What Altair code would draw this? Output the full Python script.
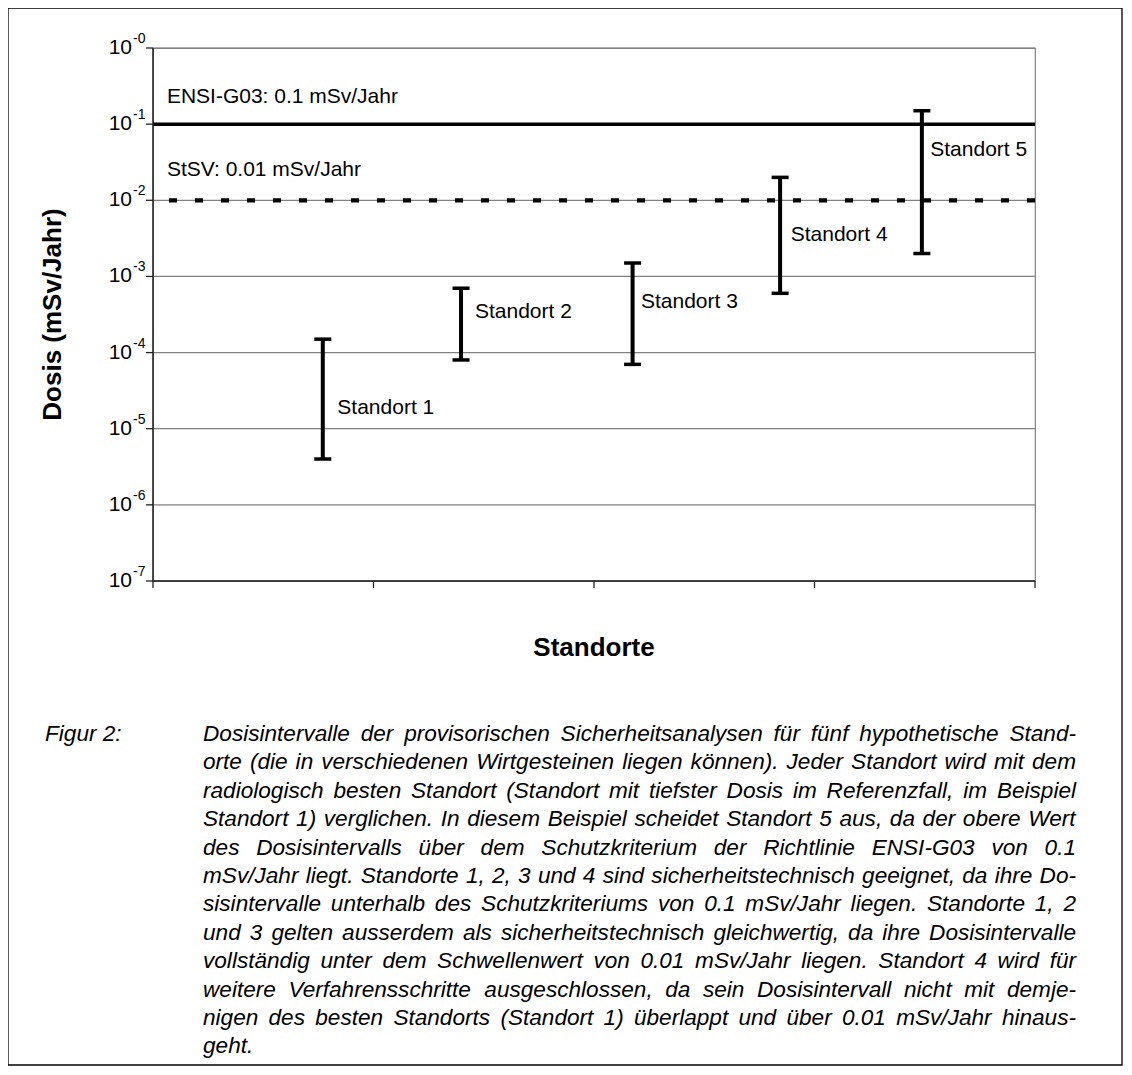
import altair as alt
import pandas as pd

# ---------------- data ----------------
sites = ["Standort 1", "Standort 2", "Standort 3", "Standort 4", "Standort 5"]
site_x = [0.770, 1.397, 2.175, 2.844, 3.487]
dose_low = [4.0e-6, 8.0e-5, 7.0e-5, 6.0e-4, 2.0e-3]
dose_high = [1.5e-4, 7.0e-4, 1.5e-3, 2.0e-2, 1.5e-1]
label_x = [0.836, 1.460, 2.213, 2.892, 3.525]
label_y = [1.87e-5, 3.4e-4, 4.6e-4, 3.5e-3, 4.6e-2]

limit_values = [0.1, 0.01]
limit_labels = ["ENSI-G03: 0.1 mSv/Jahr", "StSV: 0.01 mSv/Jahr"]
limit_label_y = [0.227, 0.025]
limit_label_x = [0.063, 0.063]

decades = [1, 1e-1, 1e-2, 1e-3, 1e-4, 1e-5, 1e-6, 1e-7]
exponents = ["-0", "-1", "-2", "-3", "-4", "-5", "-6", "-7"]
x_ticks = [0, 1, 2, 3, 4]

y_title = "Dosis (mSv/Jahr)"
x_title = "Standorte"
caption_label = "Figur 2:"
caption_lines = [
    "Dosisintervalle der provisorischen Sicherheitsanalysen für fünf hypothetische Stand-",
    "orte (die in verschiedenen Wirtgesteinen liegen können). Jeder Standort wird mit dem",
    "radiologisch besten Standort (Standort mit tiefster Dosis im Referenzfall, im Beispiel",
    "Standort 1) verglichen. In diesem Beispiel scheidet Standort 5 aus, da der obere Wert",
    "des Dosisintervalls über dem Schutzkriterium der Richtlinie ENSI-G03 von 0.1",
    "mSv/Jahr liegt. Standorte 1, 2, 3 und 4 sind sicherheitstechnisch geeignet, da ihre Do-",
    "sisintervalle unterhalb des Schutzkriteriums von 0.1 mSv/Jahr liegen. Standorte 1, 2",
    "und 3 gelten ausserdem als sicherheitstechnisch gleichwertig, da ihre Dosisintervalle",
    "vollständig unter dem Schwellenwert von 0.01 mSv/Jahr liegen. Standort 4 wird für",
    "weitere Verfahrensschritte ausgeschlossen, da sein Dosisintervall nicht mit demje-",
    "nigen des besten Standorts (Standort 1) überlappt und über 0.01 mSv/Jahr hinaus-",
    "geht.",
]

# ---------------- layout ----------------
W, H = 882, 533
FONT = "Liberation Sans"
LBL = 21
CAP_SIZE = 22.6
CAP_LEFT = 50       # relative to plot left
CAP_RIGHT = 923
CAP_TOP = 686       # relative to plot top
CAP_STEP = 28.4
FIG_X = -108
AXIS_COLOR = "#222222"
GRID_COLOR = "#808080"

# Arial / Liberation Sans advance widths (1/1000 em)
AW = {" ": 278, "(": 333, ")": 333, ",": 278, "-": 333, ".": 278, "/": 278, ":": 278}
for c in "0123456789":
    AW[c] = 556
AW.update(dict(zip("ABCDEFGHIJKLMNOPQRSTUVWXYZ",
                   [667, 667, 722, 722, 667, 611, 778, 722, 278, 500, 667, 556, 833,
                    722, 778, 667, 778, 722, 667, 611, 722, 667, 944, 667, 667, 611])))
AW.update(dict(zip("abcdefghijklmnopqrstuvwxyz",
                   [556, 556, 500, 556, 556, 278, 556, 556, 222, 222, 500, 222, 833,
                    556, 556, 556, 556, 333, 500, 278, 556, 500, 722, 500, 500, 500])))
AW.update({"ä": 556, "ö": 556, "ü": 556})


def tw(s, size):
    return sum(AW.get(ch, 556) for ch in s) / 1000.0 * size


cap_rows = [{"px": FIG_X, "py": CAP_TOP, "t": caption_label}]
for i, line in enumerate(caption_lines):
    words = line.split(" ")
    widths = [tw(w, CAP_SIZE) for w in words]
    y = CAP_TOP + i * CAP_STEP
    if i < len(caption_lines) - 1 and len(words) > 1:
        gap = (CAP_RIGHT - CAP_LEFT - sum(widths)) / (len(words) - 1)
    else:
        gap = tw(" ", CAP_SIZE)
    x = CAP_LEFT
    for w, wd in zip(words, widths):
        cap_rows.append({"px": x, "py": y, "t": w})
        x += wd + gap
cap_df = pd.DataFrame(cap_rows)

df = pd.DataFrame({"site": sites, "x": site_x, "lo": dose_low, "hi": dose_high,
                   "lx": label_x, "ly": label_y})
lim_df = pd.DataFrame({"v": limit_values, "t": limit_labels,
                       "ly": limit_label_y, "lx": limit_label_x})
dec_df = pd.DataFrame({"v": decades, "e": exponents})
xt_df = pd.DataFrame({"v": x_ticks})
one = pd.DataFrame({"k": [0]})

xs = alt.Scale(domain=[0, 4])
ys = alt.Scale(type="log", domain=[1e-7, 1])
X = lambda f: alt.X(f, scale=xs, axis=None)
Y = lambda f: alt.Y(f, scale=ys, axis=None)

frame = alt.Chart(one).mark_rect(fillOpacity=0, stroke="black", strokeWidth=1.3).encode(
    x=alt.value(-145), x2=alt.value(969), y=alt.value(-40), y2=alt.value(1017))

grid = alt.Chart(dec_df).mark_rule(color=GRID_COLOR, strokeWidth=1.2).encode(y=Y("v:Q"))
yticks = alt.Chart(dec_df).mark_rule(color=AXIS_COLOR, strokeWidth=1.3).encode(
    x=alt.value(-7), x2=alt.value(0), y=Y("v:Q"))
xticks = alt.Chart(xt_df).mark_rule(color=AXIS_COLOR, strokeWidth=1.3).encode(
    x=X("v:Q"), y=alt.value(H), y2=alt.value(H + 7))
ydomain = alt.Chart(one).mark_rule(color=AXIS_COLOR, strokeWidth=1.5).encode(
    x=alt.value(0), y=alt.value(0), y2=alt.value(H))
xdomain = alt.Chart(one).mark_rule(color=AXIS_COLOR, strokeWidth=1.5).encode(
    x=alt.value(0), x2=alt.value(W), y=alt.value(H))

stems = alt.Chart(df).mark_rule(color="black", strokeWidth=4).encode(
    x=X("x:Q"), y=Y("lo:Q"), y2="hi:Q")
cap_lo = alt.Chart(df).mark_rule(color="black", strokeWidth=3.5, xOffset=-8.5, x2Offset=8.5).encode(
    x=X("x:Q"), x2="x:Q", y=Y("lo:Q"))
cap_hi = alt.Chart(df).mark_rule(color="black", strokeWidth=3.5, xOffset=-8.5, x2Offset=8.5).encode(
    x=X("x:Q"), x2="x:Q", y=Y("hi:Q"))

ensi = alt.Chart(lim_df.iloc[[0]]).mark_rule(color="black", strokeWidth=3.5).encode(y=Y("v:Q"))
stsv = alt.Chart(lim_df.iloc[[1]]).mark_rule(color="black", strokeWidth=4.2,
                                             strokeDash=[8, 18]).encode(y=Y("v:Q"))

lim_text = alt.Chart(lim_df).mark_text(align="left", baseline="middle", font=FONT,
                                       fontSize=LBL, color="black").encode(
    x=X("lx:Q"), y=Y("ly:Q"), text="t:N")
site_text = alt.Chart(df).mark_text(align="left", baseline="middle", font=FONT,
                                    fontSize=LBL, color="black").encode(
    x=X("lx:Q"), y=Y("ly:Q"), text="site:N")

ten = alt.Chart(dec_df).mark_text(align="right", baseline="middle", font=FONT,
                                  fontSize=LBL, color="black").encode(
    x=alt.value(-21), y=Y("v:Q"), text=alt.value("10"))
expo = alt.Chart(dec_df).mark_text(align="left", baseline="middle", font=FONT,
                                   fontSize=14, color="black", dy=-9).encode(
    x=alt.value(-20), y=Y("v:Q"), text="e:N")

ytitle = alt.Chart(one).mark_text(angle=270, align="center", baseline="middle", font=FONT,
                                  fontSize=26, fontWeight="bold", color="black").encode(
    x=alt.value(-100), y=alt.value(H / 2), text=alt.value(y_title))
xtitle = alt.Chart(one).mark_text(align="center", baseline="middle", font=FONT,
                                  fontSize=26, fontWeight="bold", color="black").encode(
    x=alt.value(W / 2), y=alt.value(600), text=alt.value(x_title))

caption = alt.Chart(cap_df).mark_text(align="left", baseline="middle", font=FONT,
                                      fontSize=CAP_SIZE, fontStyle="italic",
                                      color="black").encode(
    x=alt.X("px:Q", scale=None, axis=None), y=alt.Y("py:Q", scale=None, axis=None),
    text="t:N")

chart = alt.layer(
    frame, grid, ensi, stsv, xdomain, ydomain, yticks, xticks,
    stems, cap_lo, cap_hi, lim_text, site_text,
    ten, expo, ytitle, xtitle, caption,
).properties(
    width=W, height=H,
    padding={"left": 145, "top": 40, "right": 88, "bottom": 485},
    autosize=alt.AutoSizeParams(type="none"),
).configure_view(stroke=GRID_COLOR, strokeWidth=1.2)

chart.save("out.html", embed_options={"renderer": "svg", "actions": False})
